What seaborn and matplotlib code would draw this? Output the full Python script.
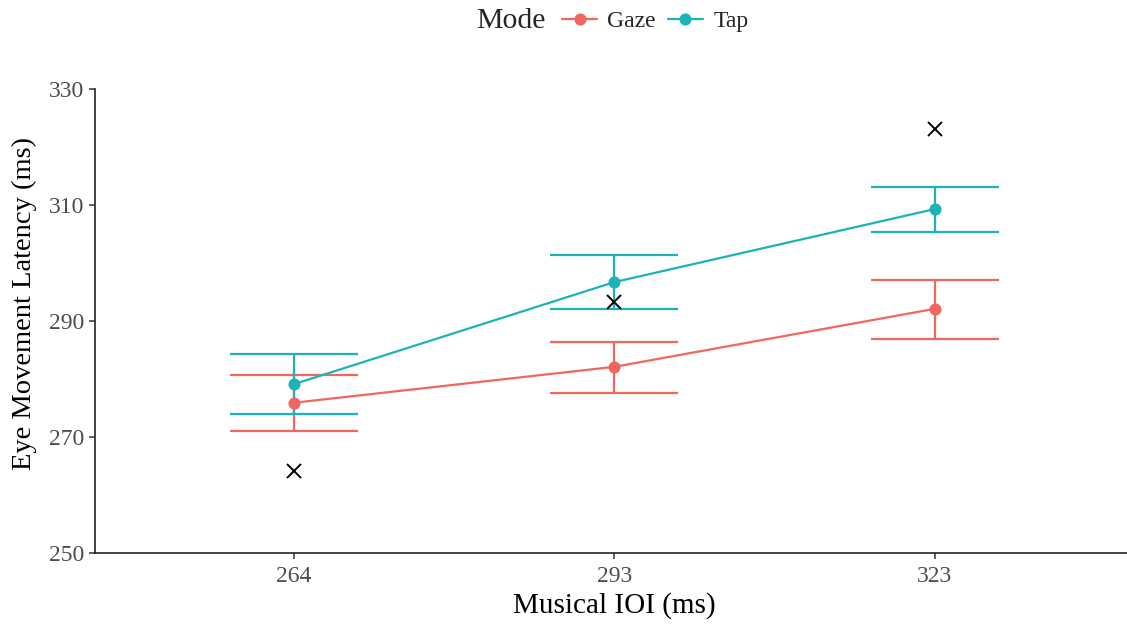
import matplotlib
matplotlib.use("Agg")
import matplotlib.pyplot as plt
import seaborn as sns
import pandas as pd
import numpy as np

# Musical inter-onset intervals (ms)
ioi = ["264", "293", "323"]
modes = ["Gaze", "Tap"]

# Mean eye movement latency (ms) per mode
gaze_mean = [275.9, 282.1, 292.1]
tap_mean = [279.1, 296.7, 309.3]

# Error bar limits (ms)
gaze_lo = [271.0, 277.6, 286.9]
gaze_hi = [280.7, 286.4, 297.1]
tap_lo = [274.0, 292.1, 305.3]
tap_hi = [284.3, 301.4, 313.1]

# Reference latencies shown as crosses
ref_latency = [264.1, 293.3, 323.1]

colors = {"Gaze": "#F0675F", "Tap": "#1BB3B8"}

df = pd.DataFrame({
    "IOI": ioi * 2,
    "Mode": ["Gaze"] * 3 + ["Tap"] * 3,
    "Latency": gaze_mean + tap_mean,
    "lo": gaze_lo + tap_lo,
    "hi": gaze_hi + tap_hi,
})

sns.set_theme(style="ticks")
plt.rcParams["font.family"] = ["Liberation Serif", "DejaVu Serif"]

W, H = 1127, 624
fig = plt.figure(figsize=(W / 100, H / 100), dpi=100)
ax = fig.add_axes([95 / W, 71 / H, 1 - 95 / W, 464 / H])

# Error bars with wide caps
for mode in modes:
    sub = df[df["Mode"] == mode]
    xs = np.arange(len(sub))
    ax.errorbar(xs, sub["Latency"],
                yerr=[sub["Latency"] - sub["lo"], sub["hi"] - sub["Latency"]],
                fmt="none", ecolor=colors[mode], elinewidth=1.6,
                capsize=46, capthick=1.6, zorder=2)

sns.pointplot(data=df, x="IOI", y="Latency", hue="Mode", order=ioi,
              hue_order=modes, palette=colors, errorbar=None,
              markers="o", markersize=7.5, linewidth=1.6, ax=ax, zorder=3)

ax.plot(np.arange(len(ioi)), ref_latency, linestyle="none", marker="x",
        color="black", markersize=10.5, markeredgewidth=1.4, zorder=4)

handles, labels = ax.get_legend_handles_labels()
if ax.get_legend() is not None:
    ax.get_legend().remove()

ax.set_xlim(-0.62, 2.6)
ax.set_ylim(250, 330)
ax.set_yticks([250, 270, 290, 310, 330])
ax.set_xlabel("Musical IOI (ms)", fontsize=21, color="black")
ax.set_ylabel("Eye Movement Latency (ms)", fontsize=20.5, color="black")
ax.xaxis.set_label_coords(614 / W, 1 - 606 / H, transform=fig.transFigure)
ax.xaxis.label.set_va("center")
ax.yaxis.set_label_coords(24 / W, 1 - 304 / H, transform=fig.transFigure)
ax.yaxis.label.set_va("center")
ax.tick_params(axis="both", labelsize=17, labelcolor="#4D4D4D",
               color="#333333", length=4, width=1.1)
ax.tick_params(axis="x", pad=5)
for side in ["top", "right"]:
    ax.spines[side].set_visible(False)
for side in ["left", "bottom"]:
    ax.spines[side].set_color("#222222")
    ax.spines[side].set_linewidth(1.2)

fig.text(511 / W, 1 - 21 / H, "Mode", fontsize=21.5, ha="center",
         va="center")
fig.legend(handles[:2], labels[:2], ncol=2, frameon=False, fontsize=17,
           loc="center left", bbox_to_anchor=(562 / W, 1 - 21 / H),
           handlelength=1.5, handletextpad=0.42, columnspacing=0.5,
           borderaxespad=0, borderpad=0)

fig.savefig("out.png", dpi=100)
